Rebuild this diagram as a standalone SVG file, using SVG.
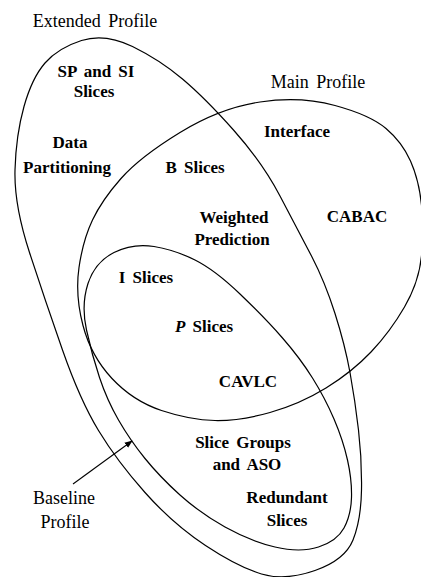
<svg xmlns="http://www.w3.org/2000/svg" width="421" height="577" viewBox="0 0 421 577">
<style>
.shape{fill:none;stroke:#000;stroke-width:1.2}
.lbl{font-family:"Liberation Serif","Times New Roman",serif;font-size:18px;fill:#000;text-anchor:middle;word-spacing:3px}
.ft{font-family:"Liberation Serif","Times New Roman",serif;font-size:17px;font-weight:bold;fill:#000;text-anchor:middle;word-spacing:3px}
.conn{fill:none;stroke:#000;stroke-width:1.1}
</style>
<defs>
<marker id="ah" viewBox="0 0 10 10" refX="9" refY="5" markerWidth="8" markerHeight="8" markerUnits="userSpaceOnUse" orient="auto">
<path d="M0,1 L10,5 L0,9 Z" fill="#000"/>
</marker>
</defs>
<rect width="421" height="577" fill="#fff"/>
<g id="extended-profile">
<path class="shape" d="M132.5,46.5 Q160,60 182.5,79 Q205,98 233.5,130 Q262,162 280,196 Q298,230 311.5,256 Q325,282 335,313.5 Q345,345 350,372.5 Q355,400 358.5,430 Q362,460 361.5,490 Q361,520 353,540 Q345,560 315,570.5 Q285,581 261.5,574 Q238,567 205.5,545.5 Q173,524 145,492.5 Q117,461 98.5,430.5 Q80,400 62.5,350 Q45,300 29.5,252.5 Q14,205 15,170 Q16,135 24,106.5 Q32,78 45,63 Q58,48 81.5,40.5 Q105,33 132.5,46.5 Z"/>
<text class="lbl" x="95" y="27">Extended Profile</text>
</g>
<g id="main-profile">
<path class="shape" d="M335,105.5 Q370,115 386,128.5 Q402,142 410.5,161 Q419,180 421.5,205 Q424,230 421.5,256 Q419,282 404.5,307 Q390,332 371,352 Q352,372 326,388 Q300,404 270,412.5 Q240,421 215,420.5 Q190,420 161.5,410.5 Q133,401 112,378.5 Q91,356 83,325.5 Q75,295 79,267.5 Q83,240 92.5,220 Q102,200 121,178.5 Q140,157 180,132.5 Q220,108 260,102 Q300,96 335,105.5 Z"/>
<text class="lbl" x="318" y="88">Main Profile</text>
</g>
<g id="baseline-profile">
<path class="shape" d="M154,246.5 Q175,250 195,260 Q215,270 240,294 Q265,318 282.5,338 Q300,358 312.5,378 Q325,398 334,419 Q343,440 347.5,460 Q352,480 351.5,497.5 Q351,515 344,528 Q337,541 318.5,547 Q300,553 275,547 Q250,541 225,527 Q200,513 180,495 Q160,477 145,458.5 Q130,440 118.5,420 Q107,400 99.5,377.5 Q92,355 86.5,330 Q81,305 88,283.5 Q95,262 114,252.5 Q133,243 154,246.5 Z"/>
<text class="lbl" x="64" y="504">Baseline</text>
<text class="lbl" x="65" y="528">Profile</text>
</g>
<g id="sp-si-slices"><text class="ft" x="96" y="77">SP and SI</text><text class="ft" x="94" y="97">Slices</text></g>
<g id="data-partitioning"><text class="ft" x="70" y="148">Data</text><text class="ft" x="67" y="173">Partitioning</text></g>
<g id="b-slices"><text class="ft" x="195" y="173">B Slices</text></g>
<g id="interface"><text class="ft" x="297" y="137">Interface</text></g>
<g id="weighted-prediction"><text class="ft" x="234" y="223">Weighted</text><text class="ft" x="232" y="245">Prediction</text></g>
<g id="cabac"><text class="ft" x="357" y="222">CABAC</text></g>
<g id="i-slices"><text class="ft" x="146" y="283">I Slices</text></g>
<g id="p-slices"><text class="ft" x="204" y="332"><tspan font-style="italic">P</tspan> Slices</text></g>
<g id="cavlc"><text class="ft" x="248" y="387">CAVLC</text></g>
<g id="slice-groups-aso"><text class="ft" x="243" y="448">Slice Groups</text><text class="ft" x="247" y="470">and ASO</text></g>
<g id="redundant-slices"><text class="ft" x="287" y="503">Redundant</text><text class="ft" x="287" y="526">Slices</text></g>
<g id="connectors">
<line class="conn" x1="73" y1="484" x2="132" y2="441" marker-end="url(#ah)"/>
</g>
</svg>
